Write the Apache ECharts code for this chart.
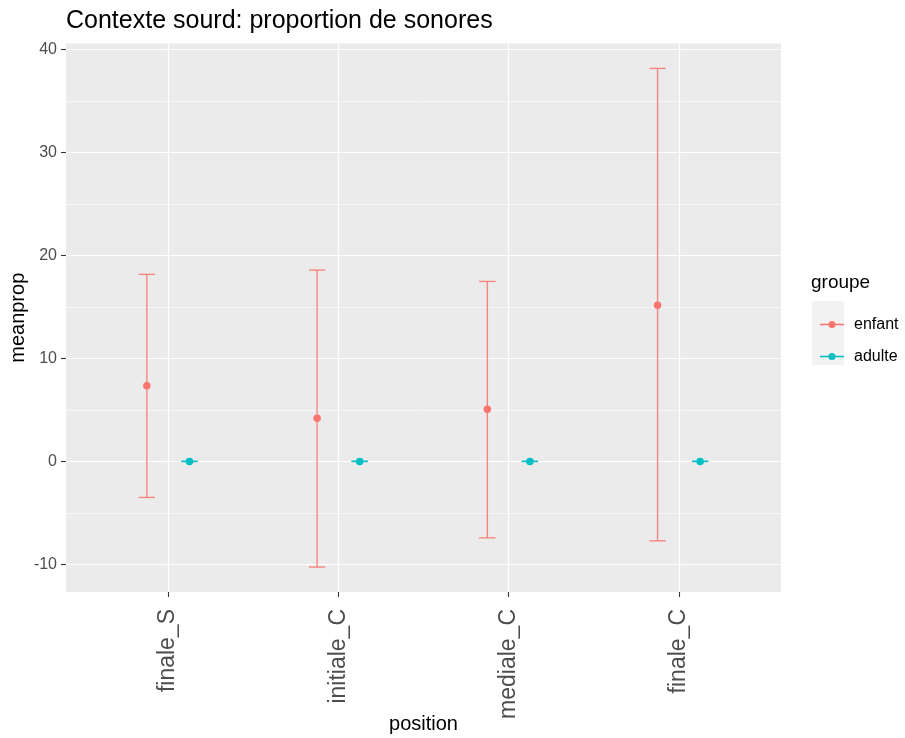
<!DOCTYPE html>
<html>
<head>
<meta charset="utf-8">
<script src="https://cdn.jsdelivr.net/npm/echarts@6/dist/echarts.min.js"></script>
<style>
html,body{margin:0;padding:0;background:#fff;}
#chart{width:905px;height:738px;}
</style>
</head>
<body>
<div id="chart"></div>
<script>
// ---- data ----
var categories = ['finale_S', 'initiale_C', 'mediale_C', 'finale_C'];
var groups = ['enfant', 'adulte'];
var enfantMean = [7.34, 4.2, 5.05, 15.17];
var enfantLow  = [-3.5, -10.26, -7.42, -7.71];
var enfantHigh = [18.16, 18.57, 17.47, 38.15];
var adulteMean = [0, 0, 0, 0];
var adulteLow  = [0, 0, 0, 0];
var adulteHigh = [0, 0, 0, 0];
var yMajorTicks = [-10, 0, 10, 20, 30, 40];
var yMinorTicks = [-5, 5, 15, 25, 35];

var colors = {enfant: '#F8766D', adulte: '#00BFC4'};
var dodge = 0.125;       // half of the dodge width in category units
var capHalf = 0.048;     // half width of the error-bar caps

// data extent with ggplot's 5% expansion
var allVals = enfantLow.concat(enfantHigh, adulteLow, adulteHigh, enfantMean, adulteMean);
var dMin = Math.min.apply(null, allVals), dMax = Math.max.apply(null, allVals);
var pad = (dMax - dMin) * 0.05;

function pts(means, offset) {
  return means.map(function (m, i) { return [i + 1 + offset, m]; });
}
function bars(lows, highs, offset) {
  return lows.map(function (l, i) { return [i + 1 + offset, l, highs[i]]; });
}
function errRender(color) {
  return function (params, api) {
    var x = api.value(0), lo = api.value(1), hi = api.value(2);
    var pLo = api.coord([x, lo]), pHi = api.coord([x, hi]);
    var cL = api.coord([x - capHalf, lo]), cR = api.coord([x + capHalf, lo]);
    var hL = api.coord([x - capHalf, hi]), hR = api.coord([x + capHalf, hi]);
    var st = {stroke: color, lineWidth: 1.4, opacity: 0.85};
    return {type: 'group', children: [
      {type: 'line', shape: {x1: pLo[0], y1: pLo[1], x2: pHi[0], y2: pHi[1]}, style: st},
      {type: 'line', shape: {x1: cL[0], y1: cL[1], x2: cR[0], y2: cR[1]}, style: st},
      {type: 'line', shape: {x1: hL[0], y1: hL[1], x2: hR[0], y2: hR[1]}, style: st}
    ]};
  };
}

var chart = echarts.init(document.getElementById('chart'));
var legendIcon = 'path://M0,2.9h24v1.4h-24z M8.5,3.6a3.5,3.5 0 1,1 7,0a3.5,3.5 0 1,1 -7,0z';

chart.setOption({
  animation: false,
  textStyle: {fontFamily: 'Liberation Sans, Arial, sans-serif'},
  title: [
    {text: 'Contexte sourd: proportion de sonores', left: 66, top: 9, padding: 0,
     textStyle: {fontSize: 25, fontWeight: 'normal', color: '#000'}},
    {text: 'groupe', left: 811, top: 273, padding: 0,
     textStyle: {fontSize: 19, fontWeight: 'normal', color: '#000'}}
  ],
  graphic: [
    {type: 'rect', left: 812, top: 301, shape: {width: 32, height: 64},
     style: {fill: '#F2F2F2'}, silent: true, z: -1}
  ],
  legend: {
    data: groups,
    orient: 'vertical',
    left: 815, top: 309.5,
    itemWidth: 24, itemHeight: 7, itemGap: 12,
    icon: legendIcon,
    textStyle: {fontSize: 16, color: '#000', lineHeight: 20, padding: [0, 0, 0, 5]},
    selectedMode: false
  },
  grid: {left: 66, right: 124, top: 43.5, bottom: 146, show: true,
         backgroundColor: '#EBEBEB', borderWidth: 0, containLabel: false,
         outerBoundsMode: 'none'},
  xAxis: {
    type: 'value', min: 0.4, max: 4.6, position: 'bottom',
    name: 'position', nameLocation: 'middle', nameGap: 122, nameMoveOverlap: false,
    nameTextStyle: {fontSize: 20, color: '#000'},
    axisLine: {show: false, onZero: false},
    axisTick: {show: true, length: 5, customValues: [1, 2, 3, 4], lineStyle: {color: '#333', width: 1.1}},
    axisLabel: {customValues: [1, 2, 3, 4], rotate: 90, margin: 17, fontSize: 23, color: '#4D4D4D',
                formatter: function (v) { return categories[Math.round(v) - 1] || ''; }},
    splitLine: {show: true, lineStyle: {color: '#fff', width: 1.2}}
  },
  yAxis: [{
    type: 'value', min: dMin - pad, max: dMax + pad,
    name: 'meanprop', nameLocation: 'middle', nameGap: 38, nameRotate: 90, nameMoveOverlap: false,
    nameTextStyle: {fontSize: 20, color: '#000'},
    axisLine: {show: false, onZero: false},
    axisTick: {show: true, length: 5, customValues: yMajorTicks, lineStyle: {color: '#333', width: 1.1}},
    axisLabel: {customValues: yMajorTicks, fontSize: 16, color: '#4D4D4D', margin: 9},
    splitLine: {show: true, lineStyle: {color: '#fff', width: 1.2}}
  }, {
    type: 'value', min: dMin - pad, max: dMax + pad, position: 'left',
    axisLine: {show: false, onZero: false},
    axisTick: {show: false, customValues: yMinorTicks},
    axisLabel: {show: false, customValues: yMinorTicks},
    splitLine: {show: true, lineStyle: {color: '#fff', width: 0.6}}
  }],
  series: [
    {name: 'enfant', type: 'custom', renderItem: errRender(colors.enfant),
     data: bars(enfantLow, enfantHigh, -dodge), encode: {x: 0, y: [1, 2]}, z: 2, silent: true,
     itemStyle: {color: colors.enfant}},
    {name: 'adulte', type: 'custom', renderItem: errRender(colors.adulte),
     data: bars(adulteLow, adulteHigh, dodge), encode: {x: 0, y: [1, 2]}, z: 2, silent: true,
     itemStyle: {color: colors.adulte}},
    {name: 'enfant', type: 'scatter', data: pts(enfantMean, -dodge), symbolSize: 7.5,
     itemStyle: {color: colors.enfant, opacity: 1}, z: 3},
    {name: 'adulte', type: 'scatter', data: pts(adulteMean, dodge), symbolSize: 7.5,
     itemStyle: {color: colors.adulte, opacity: 1}, z: 3}
  ]
});
</script>
</body>
</html>
